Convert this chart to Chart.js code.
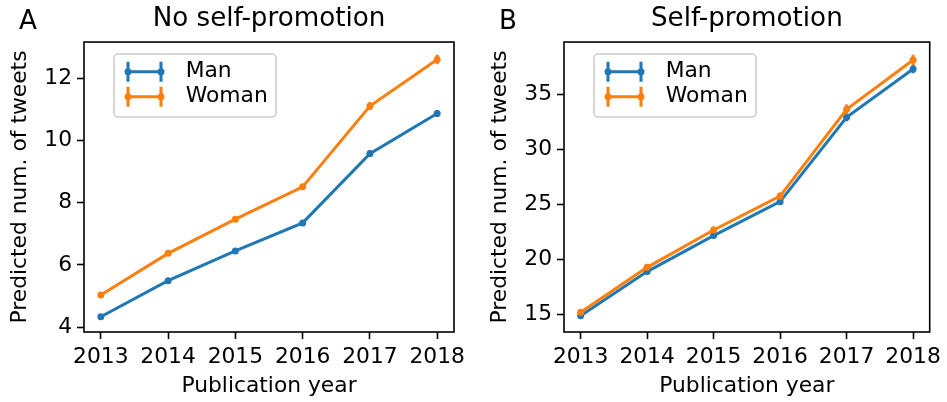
<!DOCTYPE html>
<html>
<head>
<meta charset="utf-8">
<script src="https://cdn.jsdelivr.net/npm/chart.js@4.4.1/dist/chart.umd.min.js"></script>
<style>
  html, body { margin: 0; padding: 0; background: #fff; }
  #wrap { position: relative; width: 947px; height: 402px; }
  canvas { position: absolute; top: 0; }
</style>
</head>
<body>
<div id="wrap">
  <canvas id="panelA" width="473" height="402" style="left:0px"></canvas>
  <canvas id="panelB" width="467" height="402" style="left:480px"></canvas>
</div>
<script>
// data
const years = [2013, 2014, 2015, 2016, 2017, 2018];

const noPromoMan = [4.33, 5.49, 6.45, 7.35, 9.58, 10.87];
const noPromoWoman = [5.03, 6.37, 7.47, 8.51, 11.11, 12.61];
const noPromoManErr = [0.05, 0.06, 0.07, 0.08, 0.10, 0.11];
const noPromoWomanErr = [0.06, 0.07, 0.08, 0.09, 0.13, 0.15];

const promoMan = [14.88, 18.89, 22.17, 25.26, 32.94, 37.34];
const promoWoman = [15.18, 19.28, 22.68, 25.77, 33.67, 38.16];
const promoManErr = [0.15, 0.20, 0.22, 0.25, 0.35, 0.38];
const promoWomanErr = [0.20, 0.25, 0.30, 0.33, 0.45, 0.48];

const ticksA = [4, 6, 8, 10, 12];
const ticksB = [15, 20, 25, 30, 35];

const BLUE = '#1f77b4';
const ORANGE = '#ff7f0e';
const FONT = 'DejaVu Sans';
const SMALL = 21.8;
const LARGE = 26.2;

Chart.defaults.font.family = FONT;
Chart.defaults.color = '#000';

// box around the plot area (all four spines)
const frame = {
  id: 'frame',
  afterDraw(chart) {
    const { ctx, chartArea: a } = chart;
    ctx.save();
    ctx.strokeStyle = '#000';
    ctx.lineWidth = 1.6;
    ctx.strokeRect(a.left, a.top, a.right - a.left, a.bottom - a.top);
    ctx.restore();
  }
};

// vertical error bars, drawn through the y scale
const errorBars = {
  id: 'errorBars',
  afterDatasetDraw(chart, args) {
    const ds = chart.data.datasets[args.index];
    if (!ds.errors) return;
    const yScale = chart.scales.y;
    const ctx = chart.ctx;
    ctx.save();
    ctx.strokeStyle = ds.borderColor;
    ctx.lineWidth = 3;
    args.meta.data.forEach((pt, i) => {
      const v = ds.data[i].y, e = ds.errors[i];
      ctx.beginPath();
      ctx.moveTo(pt.x, yScale.getPixelForValue(v - e));
      ctx.lineTo(pt.x, yScale.getPixelForValue(v + e));
      ctx.stroke();
    });
    ctx.restore();
  }
};

// matplotlib-like legend with errorbar handles
const boxLegend = {
  id: 'boxLegend',
  afterDraw(chart) {
    const { ctx, chartArea: a } = chart;
    const x0 = a.left + 30, y0 = a.top + 12;
    ctx.save();
    ctx.beginPath();
    ctx.roundRect(x0, y0, 162, 63, 4);
    ctx.fillStyle = 'rgba(255,255,255,0.8)';
    ctx.fill();
    ctx.strokeStyle = '#cccccc';
    ctx.lineWidth = 1.6;
    ctx.stroke();
    chart.data.datasets.forEach((ds, i) => {
      const cy = y0 + 17.7 + i * 25;
      const hx0 = x0 + 14, hx1 = x0 + 47;
      ctx.strokeStyle = ds.borderColor;
      ctx.fillStyle = ds.borderColor;
      ctx.lineWidth = 3;
      ctx.beginPath();
      ctx.moveTo(hx0, cy); ctx.lineTo(hx1, cy);
      ctx.moveTo(hx0, cy - 10); ctx.lineTo(hx0, cy + 10);
      ctx.moveTo(hx1, cy - 10); ctx.lineTo(hx1, cy + 10);
      ctx.stroke();
      [hx0, hx1].forEach(px => {
        ctx.beginPath();
        ctx.arc(px, cy, 3.5, 0, Math.PI * 2);
        ctx.fill();
      });
      ctx.fillStyle = '#000';
      ctx.font = SMALL + 'px "' + FONT + '"';
      ctx.textBaseline = 'middle';
      ctx.textAlign = 'left';
      ctx.fillText(ds.label, x0 + 71.7, cy);
    });
    ctx.restore();
  }
};

// "A" / "B" panel letter
const panelLabel = {
  id: 'panelLabel',
  afterDraw(chart, args, opts) {
    const ctx = chart.ctx;
    ctx.save();
    ctx.fillStyle = '#000';
    ctx.font = LARGE + 'px "' + FONT + '"';
    ctx.textBaseline = 'alphabetic';
    ctx.textAlign = 'left';
    ctx.fillText(opts.text, 19, 28.5);
    ctx.restore();
  }
};

function series(label, values, errors, color, order) {
  return {
    label: label,
    data: years.map((yr, i) => ({ x: yr, y: values[i] })),
    errors: errors,
    borderColor: color,
    backgroundColor: color,
    pointBackgroundColor: color,
    borderWidth: 3,
    pointRadius: 3.5,
    pointBorderWidth: 0,
    tension: 0,
    fill: false,
    order: order
  };
}

function makePanel(id, letter, title, man, woman, manErr, womanErr, yMin, yMax, yTicks, padRight) {
  return new Chart(document.getElementById(id), {
    type: 'line',
    data: {
      datasets: [
        series('Man', man, manErr, BLUE, 2),
        series('Woman', woman, womanErr, ORANGE, 1)
      ]
    },
    options: {
      responsive: false,
      animation: false,
      events: [],
      layout: { padding: { left: 0, right: padRight, top: 0, bottom: 0 } },
      scales: {
        x: {
          type: 'linear',
          min: 2012.75,
          max: 2018.25,
          afterBuildTicks: s => { s.ticks = years.map(v => ({ value: v })); },
          afterFit: s => { s.height = 70; },
          ticks: {
            callback: v => String(v),
            font: { size: SMALL },
            padding: 5.4,
            maxRotation: 0,
            autoSkip: false
          },
          grid: { drawOnChartArea: false, drawTicks: true, tickLength: 7, tickColor: '#000', tickWidth: 1.6 },
          border: { display: false },
          title: { display: true, text: 'Publication year', font: { size: SMALL }, padding: { top: 0, bottom: 2.9 } }
        },
        y: {
          type: 'linear',
          min: yMin,
          max: yMax,
          afterBuildTicks: s => { s.ticks = yTicks.map(v => ({ value: v })); },
          afterFit: s => { s.width = 84; },
          ticks: { font: { size: SMALL }, padding: 5 },
          grid: { drawOnChartArea: false, drawTicks: true, tickLength: 7, tickColor: '#000', tickWidth: 1.6 },
          border: { display: false },
          title: { display: true, text: 'Predicted num. of tweets', font: { size: SMALL }, padding: { top: 7.4, bottom: 0 } }
        }
      },
      plugins: {
        legend: { display: false },
        tooltip: { enabled: false },
        title: {
          display: true,
          text: title,
          fullSize: false,
          font: { size: LARGE, weight: 'normal' },
          color: '#000',
          padding: { top: 3.8, bottom: 6.8 }
        },
        panelLabel: { text: letter }
      }
    },
    plugins: [errorBars, frame, boxLegend, panelLabel]
  });
}

makePanel('panelA', 'A', 'No self-promotion', noPromoMan, noPromoWoman, noPromoManErr, noPromoWomanErr, 3.84, 13.17, ticksA, 19);
makePanel('panelB', 'B', 'Self-promotion', promoMan, promoWoman, promoManErr, promoWomanErr, 13.39, 39.8, ticksB, 13);
</script>
</body>
</html>
